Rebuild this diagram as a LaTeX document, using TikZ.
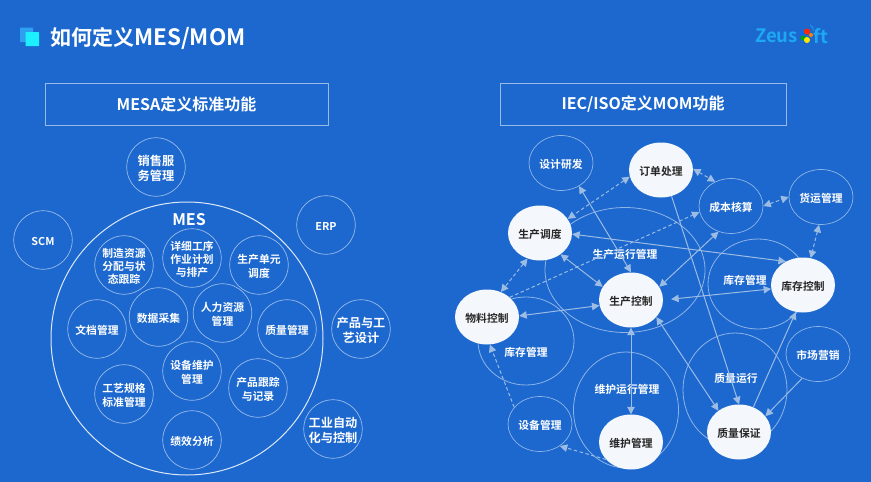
\documentclass[tikz,border=0pt]{standalone}
\usepackage{fontspec}
\setmainfont{Noto Sans CJK SC}[BoldFont={Noto Sans CJK SC Bold}]
\usetikzlibrary{shapes.geometric,arrows.meta}
\definecolor{bg}{HTML}{1C68CF}
\definecolor{ln}{HTML}{9DBCE4}
\definecolor{fillw}{HTML}{F4F7FB}
\definecolor{logo}{HTML}{1FA8F2}
\tikzset{
 x=1pt,y=-1pt,
 txt/.style={font=\fontsize{10.8}{13.3}\selectfont\bfseries,text=white,align=center,inner sep=0pt,yshift=-1.5pt},
 txtb/.style={txt,font=\fontsize{12.2}{15}\selectfont\bfseries},
 ring/.style={circle,draw=white,draw opacity=.55,line width=.7pt,minimum size=58.5pt,inner sep=0pt},
 oval/.style={ellipse,draw=white,draw opacity=.5,line width=.7pt,minimum width=64pt,minimum height=55pt,inner sep=0pt},
 solid oval/.style={ellipse,fill=fillw,minimum width=64pt,minimum height=55pt,inner sep=0pt},
 big/.style={ellipse,draw=white,draw opacity=.5,line width=.8pt,inner sep=0pt},
 blk/.style={txt,text=black!85},
 head/.style={draw=white,draw opacity=.55,line width=.8pt,font=\fontsize{16}{18}\selectfont\bfseries,text=white,minimum height=42pt,inner sep=0pt},
 link/.style={draw=ln,line width=1pt,{Triangle[length=7.5pt,width=7.5pt]}-{Triangle[length=7.5pt,width=7.5pt]}},
 one/.style={draw=ln,line width=1pt,-{Triangle[length=7.5pt,width=7.5pt]}},
 dlink/.style={link,dash pattern=on 3.5pt off 2.5pt},
 done/.style={one,dash pattern=on 3.5pt off 2.5pt},
}
\begin{document}
\begin{tikzpicture}
\useasboundingbox (0,0) rectangle (871,482);
\fill[bg] (0,0) rectangle (871,482);
% title
\fill[fill={rgb,255:red,47;green,159;blue,239},rounded corners=.5pt] (20,27.5) rectangle (33,42);
\fill[fill={rgb,255:red,28;green,240;blue,255},rounded corners=.5pt] (25.5,32) rectangle (39,46);
\node[anchor=west,inner sep=0pt,text=white,font=\fontsize{21}{24}\selectfont\bfseries] (title) at (50,38) {如何定义{\fontsize{22.5}{24}\selectfont MES/MOM}};
% logo
\node[anchor=east,inner sep=0pt,text=logo,font=\fontsize{18.5}{20}\selectfont\bfseries] (zeus) at (798,36) {Zeus};
\node[anchor=west,inner sep=0pt,text=logo,font=\fontsize{18.5}{20}\selectfont\bfseries] (ft) at (813,36) {ft};
\fill[red!70!orange] (807,31.5) circle (3);
\fill[green!65!black] (803,38) circle (2.4);
\fill[yellow!90!orange] (807,40) circle (3);
\fill[orange] (811,35) circle (2);
\fill[blue!60!cyan] (802,33.5) circle (1.6);
\draw[logo,line width=.7pt] (810,25) arc (-70:10:5);
% heads
\node[head,minimum width=283pt] (h1) at (186.5,104) {MESA定义标准功能};
\node[head,minimum width=286pt] (h2) at (643,104) {IEC/ISO定义MOM功能};
% left
\node[big,draw opacity=.85,line width=1pt,minimum width=272pt,minimum height=273pt] (mes) at (187,338.5) {};
\node[txt,font=\fontsize{16}{18}\selectfont\bfseries,yshift=0pt] (mest) at (189,218) {MES};
\node[ring,label={[txtb]center:销售服\\务管理}] (a) at (156,167) {};
\node[ring,label={[txt]center:SCM}] (b) at (43,240) {};
\node[ring,label={[txt]center:ERP}] (c) at (326,225) {};
\node[ring,label={[txt]center:制造资源\\分配与状\\态跟踪}] (d) at (124,265) {};
\node[ring,label={[txt]center:详细工序\\作业计划\\与排产}] (e) at (192,258) {};
\node[ring,label={[txt]center:生产单元\\调度}] (f) at (259,265) {};
\node[ring,label={[txt]center:文档管理}] (g) at (97,329) {};
\node[ring,label={[txt]center:数据采集}] (h) at (158.5,317) {};
\node[ring,label={[txt]center:人力资源\\管理}] (i) at (222.5,313) {};
\node[ring,label={[txt]center:质量管理}] (j) at (287,329) {};
\node[ring,label={[txt]center:设备维护\\管理}] (k) at (192,371) {};
\node[ring,label={[txt]center:工艺规格\\标准管理}] (l) at (124,394) {};
\node[ring,label={[txt]center:产品跟踪\\与记录}] (m) at (258,388) {};
\node[ring,label={[txt]center:绩效分析}] (n) at (192,440) {};
\node[ring,label={[txtb]center:产品与工\\艺设计}] (o) at (361,329) {};
\node[ring,label={[txtb]center:工业自动\\化与控制}] (p) at (333,429) {};
% right big ellipses
\node[big,minimum width=160pt,minimum height=125pt] (prun) at (625,270) {};
\node[big,minimum width=96pt,minimum height=88pt] (inv1) at (526,341) {};
\node[big,minimum width=100pt,minimum height=90pt] (inv2) at (758,284) {};
\node[big,minimum width=105pt,minimum height=116pt] (mrun) at (626,410) {};
\node[big,minimum width=104pt,minimum height=114pt] (qrun) at (735,390) {};
\node[txt,yshift=1.5pt] (t1) at (625,254) {生产运行管理};
\node[txt,yshift=1.5pt] (t2) at (526,352) {库存管理};
\node[txt,yshift=1.5pt] (t3) at (745,280) {库存管理};
\node[txt,yshift=1.5pt] (t4) at (627,389) {维护运行管理};
\node[txt,yshift=1.5pt] (t5) at (736,378) {质量运行};
% right ovals
\node[oval,label={[txt]center:设计研发}] (design) at (561,163) {};
\node[oval,label={[txt]center:成本核算}] (cost) at (731,206) {};
\node[oval,label={[txt]center:货运管理}] (ship) at (821,197) {};
\node[oval,label={[txt]center:市场营销}] (market) at (818,354) {};
\node[oval,label={[txt]center:设备管理}] (device) at (540,424) {};
\node[solid oval,label={[blk]center:订单处理}] (order) at (661,170) {};
\node[solid oval,label={[blk]center:生产调度}] (sched) at (540,233) {};
\node[solid oval,label={[blk]center:库存控制}] (stock) at (803,285) {};
\node[solid oval,label={[blk]center:生产控制}] (ctrl) at (631,300) {};
\node[solid oval,label={[blk]center:物料控制}] (mat) at (487,317) {};
\node[solid oval,label={[blk]center:维护管理}] (maint) at (631,442) {};
\node[solid oval,label={[blk]center:质量保证}] (qa) at (739,432) {};
% connectors
\draw[link] (design.-52) -- (ctrl.90);
\draw[dlink] (order.192) -- (sched.27);
\draw[dlink] (order.2) -- (cost.123);
\draw[dlink] (cost.0) -- (ship.180);
\draw[dlink] (ship.-94) -- (stock.74);
\draw[done] (mat.41) -- (cost.191);
\draw[link] (sched.-2) -- (stock.126);
\draw[link] (sched.-46) -- (ctrl.155);
\draw[link] (cost.-116) -- (ctrl.25);
\draw[dlink] (sched.-116) -- (mat.61);
\draw[link,shorten <=8pt] (ctrl.0) -- (stock.187);
\draw[link] (mat.2) -- (ctrl.190);
\draw[link] (ctrl.-90) -- (maint.90);
\draw[link] (ctrl.-34) -- (qa.134);
\draw[one] (order.-68) -- (qa.90);
\draw[one] (qa.60) -- (stock.-105);
\draw[one] (market.-123) -- (qa.31);
\draw[done] (device.147) -- (mat.-84);
\draw[done] (maint.215) -- (device.-48);
\end{tikzpicture}
\end{document}
